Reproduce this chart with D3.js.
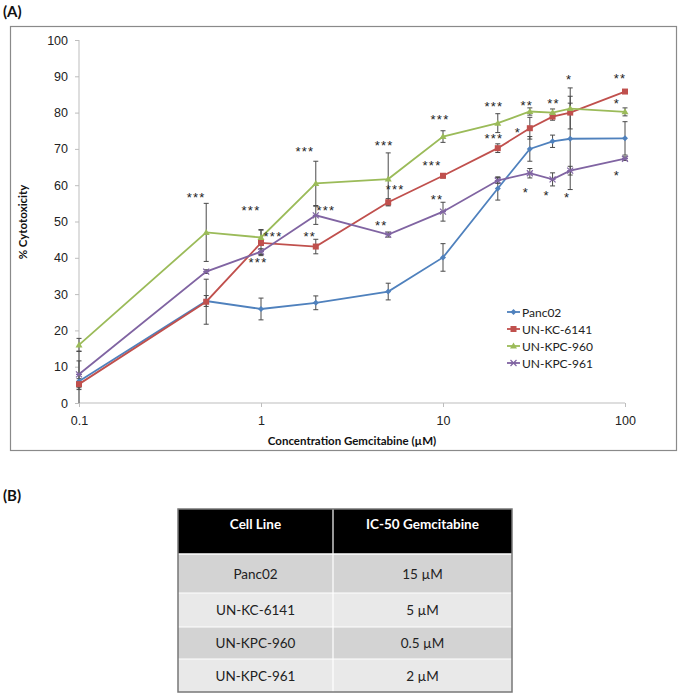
<!DOCTYPE html>
<html lang="en">
<head>
<meta charset="UTF-8">
<title>Gemcitabine cytotoxicity</title>
<script src="https://d3js.org/d3.v7.min.js"></script>
<style>
    body { margin: 0; background: #fff; font-family: Lato, 'Open Sans', sans-serif; }
    svg { display: block; }
    .tick-label { font-size: 12.5px; fill: #222; }
    .axis-title { font-size: 11.5px; font-weight: bold; fill: #111; }
    .panel-label { font-size: 15px; font-weight: bold; fill: #111; }
    .stars { font-family: 'Liberation Sans', Arial, sans-serif; font-size: 13px; fill: #222; letter-spacing: 1.2px; }
    .legend-text { font-size: 12px; fill: #222; }
    .cell-text { font-size: 13.5px; fill: #222; }
    .head-text { font-size: 13.5px; font-weight: bold; fill: #fff; }
</style>
</head>
<body>
<svg width="683" height="696"></svg>
<script>
// concentrations (uM) and % cytotoxicity per cell line, with error bars
const conc = [0.1, 0.5, 1, 2, 5, 10, 20, 30, 40, 50, 100];
const panc02 = [6, 28.1, 25.9, 27.6, 30.7, 40.1, 59.1, 70.0, 72.1, 72.8, 72.9];
const panc02Err = [8.3, 1.5, 3, 1.9, 2.3, 3.8, 3.2, 3.4, 1.7, 14, 4.6];
const kc6141 = [5.2, 27.9, 44.1, 43.1, 55.3, 62.6, 70.2, 75.7, 78.9, 80, 85.8];
const kc6141Err = [1.5, 6.2, 3.5, 2, 1, 0.6, 1.2, 3, 1, 4.5, 0.5];
const kpc960 = [16, 47, 45.6, 60.5, 61.7, 73.4, 77.1, 80.3, 80, 81.1, 80.2];
const kpc960Err = [1.8, 8, 2.2, 6.1, 7.2, 1.6, 2.6, 1, 1, 1.5, 1.1];
const kpc961 = [7.9, 36.2, 41.7, 51.7, 46.4, 52.7, 61.3, 63.3, 61.6, 64, 67.3];
const kpc961Err = [3.7, 0.5, 0.8, 2.5, 0.7, 2.6, 0.8, 1.3, 1.8, 1.2, 0.5];

const seriesNames = ["Panc02", "UN-KC-6141", "UN-KPC-960", "UN-KPC-961"];
const xTicks = [0.1, 1, 10, 100];
const yTicks = [0, 10, 20, 30, 40, 50, 60, 70, 80, 90, 100];

// significance stars: [concentration, % level, text, pixel nudge]
const stars = [
    [0.5, 57.3, "***", -10], [1, 53.7, "***", -10], [1, 46.6, "***", 12], [1, 39.4, "***", -3],
    [2, 70, "***", -11], [2, 53.7, "***", 10], [2, 46.6, "**", -6],
    [5, 71.6, "***", -4], [5, 59.5, "***", 7], [5, 49.6, "**", -7],
    [10, 78.8, "***", -3], [10, 66.1, "***", -11], [10, 56.7, "**", -6],
    [20, 82.4, "***", -4], [20, 73.6, "***", -4],
    [30, 82.6, "**", -3], [30, 75.2, "*", -12], [30, 58.7, "*", -4],
    [40, 83.2, "**", 1], [40, 57.9, "*", -6],
    [50, 89.8, "*", -1], [50, 57.3, "*", -3],
    [100, 90.1, "**", -5], [100, 83.2, "*", -8], [100, 63.4, "*", -8]
];

// IC-50 table
const tableHeader = ["Cell Line", "IC-50 Gemcitabine"];
const tableCells = ["Panc02", "UN-KC-6141", "UN-KPC-960", "UN-KPC-961"];
const tableIC50 = ["15 \u00B5M", "5 \u00B5M", "0.5 \u00B5M", "2 \u00B5M"];

const colors = ["#4F81BD", "#C0504D", "#9BBB59", "#8064A2"];
const markers = ["diamond", "square", "triangle", "cross"];

const svg = d3.select("svg");

const x = d3.scaleLog().domain([0.1, 100]).range([79, 625]);
const y = d3.scaleLinear().domain([0, 100]).range([403, 40]);

// panel A frame
svg.append("rect")
    .attr("x", 10.5).attr("y", 26.5)
    .attr("width", 666).attr("height", 424)
    .attr("fill", "none").attr("stroke", "#8a8a8a").attr("stroke-width", 1.2);

svg.append("text").attr("class", "panel-label").attr("x", 3).attr("y", 17).text("(A)");

// axes
const yAxis = svg.append("g").attr("transform", "translate(79,0)")
    .call(d3.axisLeft(y).tickValues(yTicks).tickSize(4).tickPadding(7));
const xAxis = svg.append("g").attr("transform", "translate(0,403)")
    .call(d3.axisBottom(x).tickValues(xTicks).tickFormat(d3.format("")).tickSize(4).tickPadding(9));
[yAxis, xAxis].forEach(a => {
    a.select(".domain").attr("stroke", "#bdbdbd");
    a.selectAll(".tick line").attr("stroke", "#bdbdbd");
    a.selectAll(".tick text").attr("class", "tick-label").attr("font-family", null).attr("font-size", null);
});
yAxis.select(".domain").attr("d", "M0,403V40");
xAxis.select(".domain").attr("d", "M79,0H625");

svg.append("text").attr("class", "axis-title")
    .attr("x", 352).attr("y", 445).attr("text-anchor", "middle")
    .text("Concentration Gemcitabine (\u00B5M)");
svg.append("text").attr("class", "axis-title")
    .attr("transform", "translate(27,222) rotate(-90)").attr("text-anchor", "middle")
    .text("% Cytotoxicity");

const series = [
    { vals: panc02, err: panc02Err },
    { vals: kc6141, err: kc6141Err },
    { vals: kpc960, err: kpc960Err },
    { vals: kpc961, err: kpc961Err }
];

function drawMarker(g, kind, cx, cy, color) {
    if (kind === "diamond") {
        g.append("path").attr("d", `M${cx},${cy - 3}L${cx + 3},${cy}L${cx},${cy + 3}L${cx - 3},${cy}Z`).attr("fill", color);
    } else if (kind === "square") {
        g.append("rect").attr("x", cx - 3).attr("y", cy - 3).attr("width", 6).attr("height", 6).attr("fill", color);
    } else if (kind === "triangle") {
        g.append("path").attr("d", `M${cx},${cy - 3.5}L${cx + 3.5},${cy + 2.5}L${cx - 3.5},${cy + 2.5}Z`).attr("fill", color);
    } else {
        g.append("path").attr("d", `M${cx - 3},${cy - 3}L${cx + 3},${cy + 3}M${cx - 3},${cy + 3}L${cx + 3},${cy - 3}M${cx - 3},${cy}H${cx + 3}`)
            .attr("stroke", color).attr("stroke-width", 1.2).attr("fill", "none");
    }
}

// error bars first
series.forEach(s => {
    const g = svg.append("g").attr("stroke", "#4a4a4a").attr("stroke-width", 1);
    s.vals.forEach((v, i) => {
        const e = s.err[i];
        const px = x(conc[i]);
        const top = y(Math.min(100, v + e)), bot = y(Math.max(0, v - e));
        g.append("line").attr("x1", px).attr("x2", px).attr("y1", top).attr("y2", bot);
        g.append("line").attr("x1", px - 2.5).attr("x2", px + 2.5).attr("y1", top).attr("y2", top);
        if (v - e > 0) g.append("line").attr("x1", px - 2.5).attr("x2", px + 2.5).attr("y1", bot).attr("y2", bot);
    });
});

const line = d3.line().x((d, i) => x(conc[i])).y(d => y(d));
series.forEach((s, k) => {
    svg.append("path").datum(s.vals).attr("d", line)
        .attr("fill", "none").attr("stroke", colors[k]).attr("stroke-width", 1.8);
    const g = svg.append("g");
    s.vals.forEach((v, i) => drawMarker(g, markers[k], x(conc[i]), y(v), colors[k]));
});

// stars
svg.append("g").selectAll("text").data(stars).join("text")
    .attr("class", "stars").attr("text-anchor", "middle")
    .attr("x", d => x(d[0]) + d[3]).attr("y", d => y(d[1]) + 7)
    .text(d => d[2]);

// legend
const leg = svg.append("g");
seriesNames.forEach((name, k) => {
    const ly = 312 + k * 17;
    leg.append("line").attr("x1", 507).attr("x2", 520).attr("y1", ly).attr("y2", ly)
        .attr("stroke", colors[k]).attr("stroke-width", 1.8);
    drawMarker(leg, markers[k], 513.5, ly, colors[k]);
    leg.append("text").attr("class", "legend-text").attr("x", 522).attr("y", ly + 4.5).text(name);
});

// panel B table
svg.append("text").attr("class", "panel-label").attr("x", 3).attr("y", 501).text("(B)");

const colX = [178, 333, 512];
const rowY = [509, 554, 593, 627, 659, 692];
const tb = svg.append("g");
tb.append("rect").attr("x", colX[0]).attr("y", rowY[0])
    .attr("width", colX[2] - colX[0]).attr("height", rowY[1] - rowY[0]).attr("fill", "#000");
tableCells.forEach((c, r) => {
    tb.append("rect").attr("x", colX[0]).attr("y", rowY[r + 1])
        .attr("width", colX[2] - colX[0]).attr("height", rowY[r + 2] - rowY[r + 1])
        .attr("fill", r % 2 === 0 ? "#d3d3d3" : "#e9e9e9");
});
// white inner rules
for (let r = 2; r < rowY.length - 1; r++) {
    tb.append("line").attr("x1", colX[0]).attr("x2", colX[2]).attr("y1", rowY[r]).attr("y2", rowY[r])
        .attr("stroke", "#fff").attr("stroke-width", 1);
}
tb.append("line").attr("x1", colX[0]).attr("x2", colX[2]).attr("y1", rowY[1]).attr("y2", rowY[1])
    .attr("stroke", "#fff").attr("stroke-width", 1.5);
tb.append("line").attr("x1", colX[1]).attr("x2", colX[1]).attr("y1", rowY[0]).attr("y2", rowY[5])
    .attr("stroke", "#fff").attr("stroke-width", 1.2);
tb.append("rect").attr("x", colX[0]).attr("y", rowY[0])
    .attr("width", colX[2] - colX[0]).attr("height", rowY[5] - rowY[0])
    .attr("fill", "none").attr("stroke", "#777").attr("stroke-width", 1.5);

tableHeader.forEach((h, j) => {
    tb.append("text").attr("class", "head-text").attr("text-anchor", "middle")
        .attr("x", (colX[j] + colX[j + 1]) / 2).attr("y", 529).text(h);
});
tableCells.forEach((c, r) => {
    const cy = (rowY[r + 1] + rowY[r + 2]) / 2 + 5;
    tb.append("text").attr("class", "cell-text").attr("text-anchor", "middle")
        .attr("x", (colX[0] + colX[1]) / 2).attr("y", cy).text(c);
    tb.append("text").attr("class", "cell-text").attr("text-anchor", "middle")
        .attr("x", (colX[1] + colX[2]) / 2).attr("y", cy).text(tableIC50[r]);
});
</script>
</body>
</html>
